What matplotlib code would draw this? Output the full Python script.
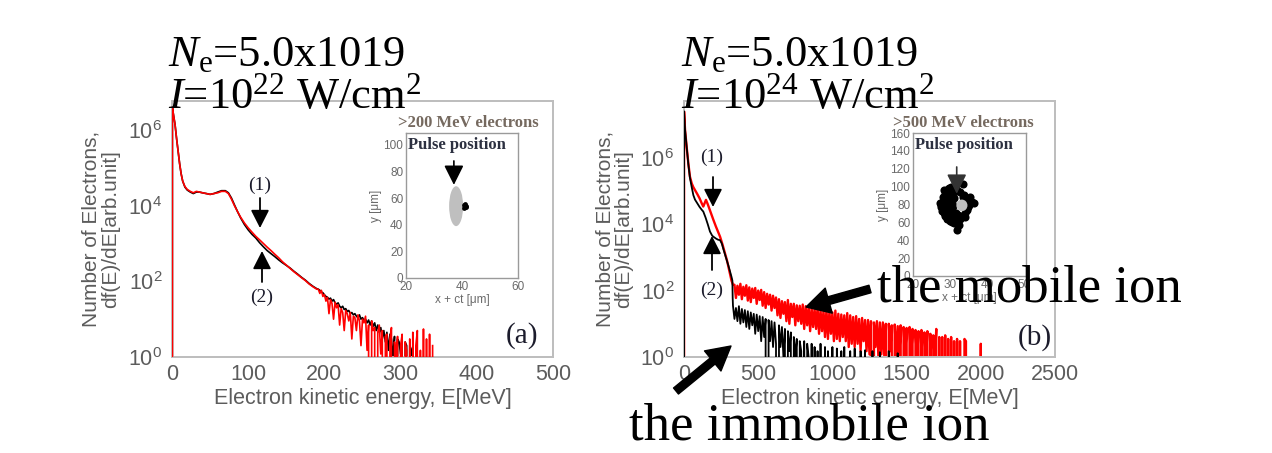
import numpy as np
import matplotlib
matplotlib.use("Agg")
import matplotlib.pyplot as plt
from matplotlib.patches import Ellipse, FancyArrowPatch

plt.rcParams['font.family'] = ['Liberation Sans', 'DejaVu Sans']
plt.rcParams['mathtext.fontset'] = 'custom'
plt.rcParams['mathtext.rm'] = 'Liberation Serif'
plt.rcParams['mathtext.it'] = 'Liberation Serif:italic'
plt.rcParams['mathtext.bf'] = 'Liberation Serif:bold'

# ---------------- data : panel (a)  I = 1e22 W/cm2 ----------------
a_smooth_energy = [0, 0.5, 2, 4, 6, 8, 10, 12, 14, 17, 20, 24, 28, 32, 36, 40, 45, 50, 55, 60,
                   65, 70, 74, 78, 82, 86, 90, 95, 100, 105, 110, 115, 120, 125, 130, 135, 140,
                   145, 150, 155, 160, 165, 170, 175, 180, 185, 190]
a_red_smooth = [0, 4e6, 2.5e6, 1.4e6, 6e5, 2.8e5, 1.3e5, 7e4, 4.5e4, 3.2e4, 2.7e4, 2.4e4, 2.2e4,
                2.4e4, 2.3e4, 2.2e4, 2.1e4, 2.0e4, 2.1e4, 2.2e4, 2.4e4, 2.4e4, 2.1e4, 1.5e4, 1.0e4,
                7e3, 5e3, 3.5e3, 2.6e3, 2.0e3, 1.55e3, 1.25e3, 1.0e3, 800, 650, 520, 420, 330, 270,
                220, 180, 150, 125, 105, 85, 72, 62]
a_black_smooth = [0, 4e6, 2.5e6, 1.4e6, 6e5, 2.8e5, 1.3e5, 7e4, 4.5e4, 3.1e4, 2.6e4, 2.3e4, 2.1e4,
                  2.3e4, 2.3e4, 2.2e4, 2.1e4, 2.0e4, 2.1e4, 2.3e4, 2.5e4, 2.5e4, 2.2e4, 1.6e4, 1.05e4,
                  7e3, 4.8e3, 3.2e3, 2.3e3, 1.75e3, 1.4e3, 1.05e3, 820, 650, 540, 450, 370, 310, 265,
                  225, 185, 155, 128, 108, 88, 74, 64]
a_red_noise_energy = np.arange(192, 344, 2)
a_red_noise = [62, 48, 58, 40, 45, 30, 38, 14, 33, 26,
               10, 28, 20, 24, 7, 19, 15, 5, 17, 14,
               9, 15, 3, 12, 11, 5, 13, 9, 2, 10,
               8, 12, 1.5, 7, 0, 9, 5, 6, 0, 4.5,
               7, 1.2, 5, 0, 3.5, 4, 0, 3, 6, 0,
               2.5, 1, 3.5, 0, 2, 4, 0, 2.5, 1.5, 0,
               3, 0, 4.5, 0, 2, 5, 0, 1.5, 0, 5.5,
               0, 3, 0, 4, 0, 2]
a_black_noise_energy = np.arange(192, 318, 2)
a_black_noise = [62, 58, 52, 50, 44, 40, 38, 34, 36, 30,
                 33, 27, 25, 27, 22, 20, 22, 18, 19, 16,
                 17, 14, 15, 13, 14, 12, 11, 13, 10, 11,
                 9, 10, 8, 9.5, 7, 9, 6.5, 8, 5, 7,
                 4.5, 6, 3, 5, 2.5, 4.5, 1.5, 4, 3, 1,
                 3.5, 0, 3, 2.5, 1.2, 3, 0, 2.5, 2, 0,
                 2, 1.6, 0]

# ---------------- data : panel (b)  I = 1e24 W/cm2 ----------------
b_red_smooth_energy = [0, 0.5, 7, 18, 29, 40, 52, 63, 74, 90, 105, 120, 130, 138, 148, 160, 175,
                       190, 198, 215, 230, 243, 260, 276, 290, 299, 310, 320, 330]
b_red_smooth = [0, 2.5e7, 7e6, 2.1e6, 7e5, 2.7e5, 1.7e5, 1.3e5, 1.07e5, 8e4, 6e4, 4.2e4, 3.4e4,
                4.2e4, 5.4e4, 4e4, 2.6e4, 1.7e4, 1.35e4, 8.5e3, 5.8e3, 4.2e3, 2.4e3, 1.35e3, 800,
                525, 320, 200, 150]
b_black_smooth_energy = [0, 0.5, 7, 18, 29, 40, 52, 63, 74, 90, 105, 120, 130, 145, 160, 175, 190,
                         198, 215, 230, 243, 255, 265, 277, 288, 300, 310, 320, 326, 328]
b_black_smooth = [0, 2.5e7, 7e6, 2.1e6, 6.5e5, 2.5e5, 1.3e5, 7.5e4, 5.5e4, 4.2e4, 3.3e4, 2.7e4,
                  2.4e4, 1.6e4, 1.0e4, 6e3, 4.5e3, 4.2e3, 3.7e3, 3.4e3, 3.3e3, 2.6e3, 1.8e3, 1.2e3,
                  830, 550, 380, 260, 200, 60]
b_red_noise_energy = np.arange(340, 2020, 10)
b_red_noise = [150, 60, 140, 75, 160, 55, 130, 70, 145, 50,
               125, 45, 115, 60, 120, 40, 100, 52, 105, 35,
               90, 30, 80, 38, 75, 25, 70, 30, 62, 18,
               55, 15, 48, 20, 45, 12, 52, 10, 40, 16,
               40, 9, 36, 12, 35, 10, 38, 7, 34, 9,
               32, 6, 30, 8, 28, 7, 31, 5, 26, 6,
               25, 4, 27, 3.5, 24, 5, 22, 3, 25, 3.5,
               20, 3, 19, 4, 18, 3, 21, 2, 18, 2.5,
               16, 2, 17, 2.5, 14, 1.5, 15, 3, 13, 1.5,
               13, 1.2, 12, 0, 11, 2, 12, 1, 11, 1.2,
               11, 1, 10, 0, 10, 1.5, 9, 0, 9.5, 1,
               8.5, 0.8, 9, 0, 8, 1, 7.5, 0, 8, 0.8,
               7, 0, 6.5, 0.8, 6, 0, 6.5, 0, 5.5, 0.8,
               6, 0, 5, 0, 4.5, 0.8, 7, 0, 4, 0,
               4, 0, 4.5, 0, 3.5, 0, 4, 0, 3, 0,
               3.5, 0, 3, 0, 0, 3.5, 3, 0, 0, 0,
               0, 0, 0, 0, 0, 0, 2.5, 0]
b_black_noise_energy = np.arange(330, 1460, 10)
b_black_noise = [35, 14, 30, 12, 34, 10, 28, 11, 26, 8,
                 24, 7, 22, 9, 20, 5, 19, 6, 17, 3,
                 16, 4, 14, 0, 13, 3, 12, 2, 11, 2.5,
                 0, 9, 2, 8, 1, 7, 0, 6, 1.5, 5.5,
                 0, 4, 1, 3.5, 0, 3, 1.5, 0, 3, 0,
                 2.5, 1, 0, 2.5, 0, 2, 0, 1.5, 0, 2.5,
                 0, 0, 2, 0, 1.5, 0, 0, 2, 0, 0,
                 1.8, 0, 0, 1.5, 0, 2, 0, 0, 0, 1.5,
                 0, 0, 1.8, 0, 0, 0, 1.5, 0, 0, 1.6,
                 0, 0, 0, 0, 1.5, 0, 0, 0, 0, 1.4,
                 0, 0, 0, 0, 0, 1.5, 0, 0, 0, 0,
                 0, 1.3, 0]

# ---------------- inset data ----------------
pulse_a = dict(x=37.9, y=54, w=5, h=30)
blob_a_x = [40.6, 41.0, 41.4, 41.2, 40.8, 41.6]
blob_a_y = [52.5, 53.5, 54.5, 55.5, 55.0, 53.5]
pulse_b = dict(x=33.2, y=79, w=3.0, h=13)
blob_b_x = [27.2, 27.5, 27.8, 28.0, 28.3, 28.6, 29.0, 29.4, 29.8, 30.2, 28.2, 28.7, 29.3, 29.9,
            30.5, 31.1, 31.8, 32.4, 29.5, 30.0, 30.6, 31.2, 33.2, 34.0, 34.6, 35.2, 35.8, 34.9,
            33.9, 33.4, 32.6, 31.9, 30.8, 29.1, 33.6, 34.9, 34.0, 31.9, 36.4,
            28.4, 29.0, 29.6, 28.9, 29.8, 30.4, 30.9, 30.2, 28.5, 29.2, 30.0, 30.8, 31.4, 28.0,
            27.6, 31.5, 32.2, 31.0, 29.4, 30.6, 32.8, 35.3, 34.2]
blob_b_y = [82, 77, 73, 88, 70, 92, 95, 97, 99, 100, 79, 67, 64, 62, 60, 59, 58, 57, 85, 74, 70,
            66, 67, 70, 74, 79, 83, 86, 91, 88, 94, 96, 92, 90, 103, 77, 66, 51, 82,
            84, 80, 76, 72, 86, 82, 78, 93, 96, 68, 66, 64, 62, 84, 79, 71, 68, 87, 90, 74, 64,
            88, 82]

# ---------------- layout ----------------
W, H = 1272, 453
fig = plt.figure(figsize=(W / 100, H / 100), dpi=100)


def rect(l, t, r, b):
    return [l / W, 1 - b / H, (r - l) / W, (b - t) / H]


def fpx(x, y):
    return (x / W, 1 - y / H)


def fig_arrow(x0, y0, x1, y1, **kw):
    p = FancyArrowPatch(fpx(x0, y0), fpx(x1, y1), transform=fig.transFigure,
                        shrinkA=0, shrinkB=0, zorder=10, **kw)
    fig.add_artist(p)


GRAY_TXT = '#5c5c5c'
SPINE = '#bdbdbd'

ax_a = fig.add_axes(rect(172, 101, 553, 357))
ax_b = fig.add_axes(rect(684, 101, 1055, 357))

# panel a curves (red drawn over black)
ax_a.plot(list(a_smooth_energy) + list(a_black_noise_energy), a_black_smooth + a_black_noise,
          color='black', lw=1.2, zorder=2)
ax_a.plot(list(a_smooth_energy) + list(a_red_noise_energy), a_red_smooth + a_red_noise,
          color='#ff0000', lw=1.2, zorder=3)
# panel b curves (black drawn over red)
ax_b.plot(list(b_red_smooth_energy) + list(b_red_noise_energy), b_red_smooth + b_red_noise,
          color='#ff0000', lw=1.7, zorder=2)
ax_b.plot(list(b_black_smooth_energy) + list(b_black_noise_energy), b_black_smooth + b_black_noise,
          color='black', lw=1.3, zorder=3)

for ax, xmax, ytop, xt in [(ax_a, 500, 10 ** 6.77, [0, 100, 200, 300, 400, 500]),
                           (ax_b, 2500, 10 ** 7.71, [0, 500, 1000, 1500, 2000, 2500])]:
    ax.set_yscale('log')
    ax.set_xlim(0, xmax)
    ax.set_ylim(1, ytop)
    ax.set_xticks(xt)
    ax.set_yticks([1, 1e2, 1e4, 1e6])
    ax.yaxis.set_minor_locator(matplotlib.ticker.NullLocator())
    ax.tick_params(length=0, labelsize=15.5, colors=GRAY_TXT, pad=5)
    ax.tick_params(axis='y', pad=7)
    for s in ax.spines.values():
        s.set_color(SPINE)
        s.set_linewidth(1.4)
    ax.set_xlabel('Electron kinetic energy, E[MeV]', fontsize=15.5, color=GRAY_TXT, labelpad=2)
    ax.set_ylabel('Number of Electrons,\ndf(E)/dE[arb.unit]', fontsize=15, color=GRAY_TXT,
                  linespacing=1.0)
    ax.yaxis.set_label_coords(-0.137, 0.5)

# ---------------- insets ----------------
in_a = fig.add_axes(rect(406, 133, 518, 278))
in_b = fig.add_axes(rect(913, 133, 1026, 276))

in_a.add_patch(Ellipse((pulse_a['x'], pulse_a['y']), pulse_a['w'], pulse_a['h'],
                       color='#bfbfbf', lw=0))
in_a.scatter(blob_a_x, blob_a_y, s=12, color='black', lw=0)
in_a.set_xlim(20, 60)
in_a.set_ylim(0, 109)
in_a.set_xticks([20, 40, 60])
in_a.set_yticks([0, 20, 40, 60, 80, 100])
in_a.annotate('', xy=(37.1, 70), xytext=(37.1, 88),
              arrowprops=dict(arrowstyle='-|>,head_length=0.6,head_width=0.3', color='black',
                              lw=1.2, shrinkA=0, shrinkB=0, mutation_scale=20))

in_b.scatter(blob_b_x, blob_b_y, s=34, color='black', lw=0)
in_b.add_patch(Ellipse((pulse_b['x'], pulse_b['y']), pulse_b['w'], pulse_b['h'],
                       color='#bfbfbf', lw=0, zorder=3))
in_b.set_xlim(20, 50.5)
in_b.set_ylim(0, 160)
in_b.set_xticks([20, 30, 40, 50])
in_b.set_yticks(list(range(0, 161, 20)))
in_b.annotate('', xy=(31.8, 92), xytext=(31.8, 122),
              arrowprops=dict(arrowstyle='-|>,head_length=0.6,head_width=0.3', color='#333333',
                              lw=1.2, shrinkA=0, shrinkB=0, mutation_scale=20), zorder=5)

for ia in (in_a, in_b):
    ia.tick_params(length=0, labelsize=8.5, colors='#6a6a6a', pad=2)
    for s in ia.spines.values():
        s.set_color('#9a9a9a')
        s.set_linewidth(1.0)
    ia.set_xlabel('x + ct [\u03bcm]', fontsize=8.5, color='#6a6a6a', labelpad=1)
    ia.set_ylabel('y [\u03bcm]', fontsize=8.5, color='#6a6a6a', labelpad=1)
    ia.text(0.02, 0.975, 'Pulse position', transform=ia.transAxes, family='Liberation Serif',
            fontsize=12, fontweight='bold', color='#2c3040', va='top', ha='left')

fig.text(*fpx(398, 123), '>200 MeV electrons', family='Liberation Serif', fontsize=12,
         fontweight='bold', color='#75695f', va='center', ha='left')
fig.text(*fpx(893, 123), '>500 MeV electrons', family='Liberation Serif', fontsize=12,
         fontweight='bold', color='#75695f', va='center', ha='left')

# ---------------- titles ----------------
SERIF = 'Liberation Serif'
for x0, expo in [(168, '22'), (681, '24')]:
    fig.text(*fpx(x0, 66), r'$N_{\mathrm{e}}$=5.0x1019', family=SERIF, fontsize=32,
             va='baseline', ha='left', color='black')
    fig.text(*fpx(x0, 108), r'$I$=10$^{' + expo + r'}$ W/cm$^{2}$', family=SERIF, fontsize=32,
             va='baseline', ha='left', color='black')

# panel labels
fig.text(*fpx(522, 336), '(a)', family=SERIF, fontsize=21, va='center', ha='center', color='#1c1c2c')
fig.text(*fpx(1035, 338), '(b)', family=SERIF, fontsize=21, va='center', ha='center', color='#1c1c2c')

# (1)/(2) markers
small_style = '-|>,head_length=0.55,head_width=0.28'
for (tx1, ty1, ax1, t1, h1), (tx2, ty2, ax2, t2, h2) in [
        ((260, 185, 260, 198, 228), (262, 297, 262, 282, 251)),
        ((712, 157, 713, 177, 207), (712, 290, 712, 270, 236))]:
    fig.text(*fpx(tx1, ty1), '(1)', family=SERIF, fontsize=14, va='center', ha='center',
             color='#1c1c2c')
    fig.text(*fpx(tx2, ty2), '(2)', family=SERIF, fontsize=14, va='center', ha='center',
             color='#1c1c2c')
    fig_arrow(ax1, t1, ax1, h1, arrowstyle=small_style, color='black', lw=1.3, mutation_scale=20)
    fig_arrow(ax2, t2, ax2, h2, arrowstyle=small_style, color='black', lw=1.3, mutation_scale=20)

# big annotations
big_style = 'simple,head_length=1.0,head_width=1.1,tail_width=0.33'
fig.text(*fpx(877, 302), 'the mobile ion', family=SERIF, fontsize=38, va='baseline',
         ha='left', color='black', zorder=10)
fig_arrow(870, 289, 806, 307, arrowstyle=big_style, color='black', mutation_scale=17)
fig.text(*fpx(629, 440), 'the immobile ion', family=SERIF, fontsize=38, va='baseline',
         ha='left', color='black', zorder=10)
fig_arrow(676, 391, 731, 346, arrowstyle=big_style, color='black', mutation_scale=17)

fig.savefig('out.png', dpi=100)
